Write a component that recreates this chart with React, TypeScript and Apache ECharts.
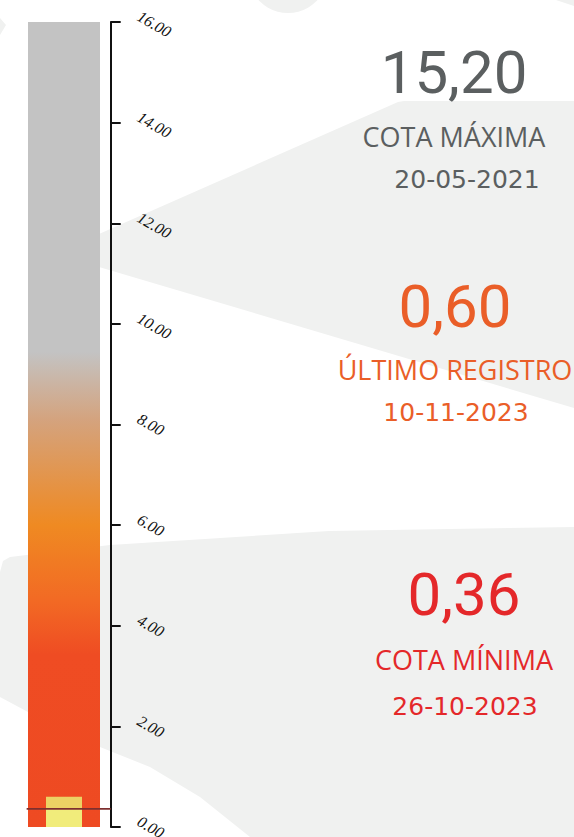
import React, { useEffect, useRef } from "react";
import * as echarts from "echarts";

// ---- data ----
const categories = ["Nivel"];
const gaugeRange = [0, 16];
const gaugeStep = 2;
const gaugeFull = [16];
const lastValue = [0.6];
const minValue = [0.36];
const maxValue = [15.2];
const summaryTitles = ["COTA MÁXIMA", "ÚLTIMO REGISTRO", "COTA MÍNIMA"];
const summaryValues = [maxValue[0], lastValue[0], minValue[0]];
const summaryDates = ["20-05-2021", "10-11-2023", "26-10-2023"];

// ---- style constants ----
const GRAY_TXT = "#5B5F60";
const ORANGE_TXT = "#EA5E28";
const RED_TXT = "#E4282A";
const BG = "#F0F1F0";
const LINE_START = 0.1;

const fmtComma = (v: number) => v.toFixed(2).replace(".", ",");

export default function App() {
  const ref = useRef<HTMLDivElement>(null);
  useEffect(() => {
    if (!ref.current) return;
    const chart = echarts.init(ref.current, undefined, { renderer: "svg" });

    const gradient = new echarts.graphic.LinearGradient(0, 0, 0, 1, [
      { offset: 0, color: "#C3C3C3" },
      { offset: 0.41, color: "#C3C3C3" },
      { offset: 0.494, color: "#D4A37E" },
      { offset: 0.594, color: "#E98F37" },
      { offset: 0.625, color: "#EF8A22" },
      { offset: 0.718, color: "#F26A24" },
      { offset: 0.786, color: "#EF4C23" },
      { offset: 1, color: "#EE4A22" },
    ]);

    const colors = [GRAY_TXT, ORANGE_TXT, RED_TXT];
    const blockX = [454, 455, 464];
    const numY = [72, 306, 594];
    const titleY = [136, 369, 659];
    const dateX = [467, 456, 465];
    const dateY = [179, 412, 706];

    const texts: any[] = [];
    for (let i = 0; i < 3; i++) {
      texts.push({
        type: "text",
        x: blockX[i],
        y: numY[i],
        z: 100,
        style: {
          text: fmtComma(summaryValues[i]),
          fill: colors[i],
          fontFamily: "Roboto",
          fontSize: 60,
          align: "center",
          verticalAlign: "middle",
        },
      });
      texts.push({
        type: "text",
        x: blockX[i],
        y: titleY[i],
        z: 100,
        style: {
          text: summaryTitles[i],
          fill: colors[i],
          fontFamily: "Open Sans",
          fontWeight: "normal",
          fontSize: 27,
          align: "center",
          verticalAlign: "middle",
        },
      });
      texts.push({
        type: "text",
        x: dateX[i],
        y: dateY[i],
        z: 100,
        style: {
          text: summaryDates[i],
          fill: colors[i],
          fontFamily: "DejaVu Sans",
          fontSize: 25,
          align: "center",
          verticalAlign: "middle",
        },
      });
    }

    const bgShapes: any[] = [
      {
        type: "polygon",
        z: -10,
        silent: true,
        shape: {
          points: [
            [99, 234],
            [398, 102],
            [404, 101],
            [574, 101],
            [574, 408],
            [99, 267],
          ],
        },
        style: { fill: BG },
      },
      {
        type: "polygon",
        z: -10,
        silent: true,
        shape: {
          points: [
            [0, 572],
            [3, 561],
            [10, 557],
            [110, 545],
            [329, 531],
            [574, 527],
            [574, 837],
            [250, 837],
            [200, 797],
            [150, 767],
            [100, 747],
            [28, 712],
            [0, 697],
          ],
        },
        style: { fill: BG },
      },
      {
        type: "circle",
        z: -10,
        silent: true,
        shape: { cx: 288, cy: -27, r: 40 },
        style: { fill: BG },
      },
      {
        type: "polygon",
        z: -10,
        silent: true,
        shape: { points: [[0, 18], [6, 25], [0, 35]] },
        style: { fill: BG },
      },
      {
        type: "polygon",
        z: -10,
        silent: true,
        shape: { points: [[556, 0], [574, 0], [574, 6]] },
        style: { fill: BG },
      },
    ];

    chart.setOption({
      animation: false,
      backgroundColor: "#ffffff",
      grid: {
        left: 17.3,
        top: 22,
        width: 93.4,
        height: 805,
        containLabel: false,
        outerBoundsMode: "none",
      },
      xAxis: [
        { type: "category", data: categories, show: false },
        { type: "category", data: categories, show: false },
        { type: "value", min: 0, max: 1, show: false },
      ],
      yAxis: {
        type: "value",
        position: "right",
        min: gaugeRange[0],
        max: gaugeRange[1],
        interval: gaugeStep,
        axisLine: { show: true, onZero: false, lineStyle: { color: "#111", width: 2 } },
        axisTick: { show: true, length: 10, lineStyle: { color: "#111", width: 2 } },
        splitLine: { show: false },
        axisLabel: {
          rotate: -30,
          margin: 24,
          align: "left",
          verticalAlign: "bottom",
          fontFamily: "Liberation Serif",
          fontStyle: "italic",
          fontSize: 16,
          color: "#111",
          formatter: (v: number) => v.toFixed(2),
        },
      },
      graphic: { elements: [...bgShapes, ...texts] },
      series: [
        {
          type: "bar",
          xAxisIndex: 0,
          data: gaugeFull,
          barWidth: 72,
          silent: true,
          itemStyle: { color: gradient },
        },
        {
          type: "bar",
          xAxisIndex: 1,
          data: lastValue,
          barWidth: 36,
          barGap: "-100%",
          silent: true,
          itemStyle: { color: "#ECD264" },
        },
        {
          type: "bar",
          xAxisIndex: 1,
          data: minValue,
          barWidth: 36,
          barGap: "-100%",
          silent: true,
          itemStyle: { color: "#F1EC7B" },
        },
        {
          type: "line",
          xAxisIndex: 2,
          data: [
            [LINE_START, minValue[0]],
            [1, minValue[0]],
          ],
          symbol: "none",
          silent: true,
          z: 5,
          lineStyle: { color: "#7E2F2F", width: 1.6, opacity: 1 },
        },
      ],
    });
    return () => chart.dispose();
  }, []);

  return (
    <div
      ref={ref}
      style={{ position: "fixed", left: 0, top: 0, width: 574, height: 837, overflow: "hidden" }}
    />
  );
}
